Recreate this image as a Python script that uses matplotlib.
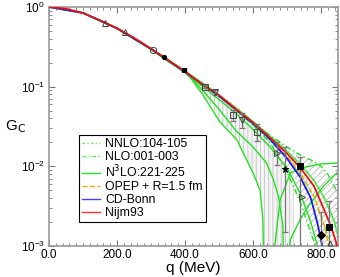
import matplotlib
matplotlib.use("Agg")
import matplotlib.pyplot as plt
import numpy as np
from matplotlib.ticker import MultipleLocator, LogLocator, NullFormatter

plt.rcParams["font.family"] = ["Liberation Sans", "DejaVu Sans"]
plt.rcParams["hatch.linewidth"] = 0.6

# ── curves (q in MeV, |G_C|) ──────────────────────────────────────────
nijm_q = [0, 50, 100, 150, 200, 250, 300, 350, 400, 450, 500, 550, 600,
          650, 700, 740, 780, 810, 830, 845, 852]
nijm_g = [1.0, 0.95, 0.84, 0.68, 0.54, 0.41, 0.30, 0.216, 0.155, 0.107,
          0.078, 0.052, 0.0355, 0.0229, 0.0145, 0.0095, 0.0056, 0.0028,
          0.00174, 0.0011, 0.0008]

bonn_q = [0, 100, 200, 300, 400, 500, 600, 650, 700, 740, 770, 790, 800, 808]
bonn_g = [1.0, 0.84, 0.54, 0.298, 0.153, 0.076, 0.0345, 0.0219, 0.0126,
          0.0072, 0.0040, 0.0019, 0.0012, 0.0008]

opep_q = [0, 100, 200, 300, 400, 500, 600, 650, 700, 740, 780, 810, 828]
opep_g = [1.0, 0.84, 0.54, 0.30, 0.154, 0.077, 0.035, 0.0225, 0.0135,
          0.0082, 0.0042, 0.0018, 0.0008]

# NLO:001-003 (dash-dot) band edges
nlo_q = [550, 600, 650, 700, 720, 744, 774, 790, 800, 820, 850]
nlo_lo = [0.051, 0.033, 0.020, 0.0085, 0.0055, 0.0031, 0.0013,
          0.00093, 0.0005, 0.0001, 0.0001]
nlo_hi = [0.053, 0.036, 0.0245, 0.0175, 0.0155, 0.0135, 0.0118,
          0.0108, 0.0100, 0.0080, 0.0046]

# NNLO:104-105 (fine dash-dot)
nnlo_q = [300, 400, 500, 600, 650, 700, 740, 780, 810, 835, 850]
nnlo_a = [0.302, 0.157, 0.079, 0.0365, 0.024, 0.0155, 0.0105, 0.0066,
          0.0040, 0.0022, 0.0014]
nnlo_b = [0.298, 0.152, 0.075, 0.033, 0.021, 0.0125, 0.0078, 0.0040,
          0.0018, 0.0008, 0.0005]

# N3LO:221-225 (solid)
n3a_q = [0, 100, 200, 300, 400, 500, 600, 650, 700, 740, 780, 810, 840, 852]
n3a_g = [1.0, 0.84, 0.54, 0.30, 0.157, 0.079, 0.0365, 0.0238, 0.0155,
         0.0105, 0.0066, 0.0040, 0.0020, 0.0012]
n3b_q = [0, 100, 200, 300, 350, 400, 450, 500, 550, 600, 650, 700, 740,
         770, 790, 800]
n3b_g = [1.0, 0.84, 0.537, 0.295, 0.210, 0.150, 0.102, 0.069, 0.046,
         0.029, 0.0175, 0.0095, 0.0045, 0.0020, 0.0010, 0.0006]
n3c_q = [0, 100, 200, 300, 350, 400, 450, 500, 550, 600, 640, 660, 675,
         688, 694, 710, 740, 770, 810, 850]
n3c_g = [1.0, 0.84, 0.537, 0.295, 0.210, 0.152, 0.092, 0.052, 0.028,
         0.0175, 0.011, 0.0068, 0.0042, 0.0018, 0.0001, 0.0012, 0.0022,
         0.0035, 0.0058, 0.0085]
n3d_q = [0, 100, 200, 300, 350, 406, 450, 503, 553, 571, 600, 621, 629,
         635, 650, 665, 680, 710, 750, 800, 850]
n3d_g = [1.0, 0.84, 0.535, 0.292, 0.207, 0.148, 0.082, 0.036, 0.0214,
         0.0148, 0.0083, 0.0050, 0.0022, 0.0001, 0.0001, 0.0011, 0.0038,
         0.0083, 0.0097, 0.0107, 0.0110]

# ── data points ───────────────────────────────────────────────────────
pts = [
    # q, G, err_lo, err_hi, marker, filled, size
    (165, 0.63, 0, 0, "^", False, 4.0),
    (224, 0.49, 0, 0, "^", False, 4.0),
    (306, 0.29, 0, 0, "o", False, 4.5),
    (338, 0.237, 0, 0, "o", True, 3.0),
    (397, 0.162, 0.006, 0.006, "s", True, 3.2),
    (459, 0.100, 0.005, 0.005, "s", False, 4.0),
    (488, 0.085, 0.006, 0.006, "v", False, 4.0),
    (541, 0.044, 0.007, 0.007, "s", False, 4.0),
    (568, 0.038, 0.008, 0.008, "v", False, 4.0),
    (612, 0.027, 0.006, 0.007, "s", False, 4.0),
    (671, 0.0148, 0.0044, 0.0052, ">", False, 4.0),
    (694, 0.0093, 0.0078, 0.0082, "*", True, 5.0),
    (738, 0.0101, 0.0095, 0.0030, "s", True, 4.2),
    (744, 0.0041, 0, 0, ">", False, 4.0),
    (800, 0.00138, 0.0008, 0.0013, "D", True, 4.0),
    (824, 0.00174, 0.0012, 0.0019, "s", True, 4.2),
    (826, 0.0011, 0, 0, "^", False, 3.5),
]

GREEN = "#22e022"
LGREEN = "#66ee66"

fig = plt.figure(figsize=(3.4, 2.77), dpi=100)
ax = fig.add_axes([0.144, 0.112, 0.850, 0.863])

# hatched bands
qd = np.linspace(380, 720, 200)
lo = np.minimum(np.interp(qd, n3d_q, n3d_g), np.interp(qd, n3c_q, n3c_g))
lo = np.where(qd > 632, 1e-5, lo)
hi = np.interp(qd, n3a_q, n3a_g)
ax.fill_between(qd, lo, hi, facecolor="#f4f4f4", edgecolor="#c4c4c4",
                hatch="||||", linewidth=0, zorder=1)
ax.fill_between(nlo_q, nlo_lo, nlo_hi, facecolor="white", edgecolor="#bbbbbb",
                hatch="/////", linewidth=0, zorder=1)

# theory curves
for qq, gg in [(n3a_q, n3a_g), (n3b_q, n3b_g), (n3c_q, n3c_g), (n3d_q, n3d_g)]:
    ax.plot(qq, gg, color=GREEN, lw=1.0, zorder=2)
ax.plot(nnlo_q, nnlo_a, color=LGREEN, lw=1.0, dashes=(3, 1.5, 1, 1.5), zorder=2)
ax.plot(nnlo_q, nnlo_b, color=LGREEN, lw=1.0, dashes=(3, 1.5, 1, 1.5), zorder=2)
ax.plot(nlo_q, nlo_lo, color=GREEN, lw=1.0, dashes=(4, 2, 1, 2), zorder=2)
ax.plot(nlo_q, nlo_hi, color=GREEN, lw=1.0, dashes=(4, 2, 1, 2), zorder=2)
ax.plot(opep_q, opep_g, color="#ffaa00", lw=1.0, ls="--", zorder=3)
ax.plot(bonn_q, bonn_g, color="#1a1aee", lw=1.3, zorder=4)
ax.plot(nijm_q, nijm_g, color="#ee1111", lw=1.3, zorder=5)

# experimental points
for q, g, el, eh, m, filled, ms in pts:
    if el or eh:
        ax.errorbar(q, g, yerr=[[el], [eh]], fmt="none", ecolor="#777777",
                    elinewidth=0.9, capsize=2.2, capthick=0.9, zorder=6)
    ax.plot(q, g, marker=m, ms=ms,
            mfc="black" if filled else "none", mec="black" if filled else "#444444",
            mew=0.7, ls="none", zorder=7)

# legend proxies
h = [
    plt.Line2D([], [], color=LGREEN, lw=1.0, dashes=(2, 1.5, 1, 1.5)),
    plt.Line2D([], [], color=LGREEN, lw=1.0, dashes=(3, 1.5, 1, 1.5)),
    plt.Line2D([], [], color=GREEN, lw=1.0),
    plt.Line2D([], [], color="#ffaa00", lw=1.0, ls="--"),
    plt.Line2D([], [], color="#4444ff", lw=1.0),
    plt.Line2D([], [], color="#ff3333", lw=1.0),
]
labels = ["NNLO:104-105", "NLO:001-003", "N$^3$LO:221-225",
          "OPEP + R=1.5 fm", "CD-Bonn", "Nijm93"]
leg = ax.legend(h, labels, loc="upper left", bbox_to_anchor=(0.103, 0.465),
                fontsize=8.8, frameon=True, fancybox=False, framealpha=1,
                edgecolor="black", borderpad=0.25, labelspacing=0.08,
                handlelength=1.5, handletextpad=0.4, borderaxespad=0)
leg.get_frame().set_linewidth(0.8)
leg.set_zorder(10)

ax.set_yscale("log")
ax.set_xlim(0, 850)
ax.set_ylim(1e-3, 1)
ax.xaxis.set_major_locator(MultipleLocator(200))
ax.xaxis.set_minor_locator(MultipleLocator(20))
ax.xaxis.set_major_formatter(plt.FuncFormatter(lambda x, _: f"{x:.1f}"))
ax.yaxis.set_major_locator(LogLocator(base=10, numticks=10))
ax.yaxis.set_minor_locator(LogLocator(base=10, subs=np.arange(2, 10), numticks=10))
ax.yaxis.set_minor_formatter(NullFormatter())

for sp in ax.spines.values():
    sp.set_color("#999999")
    sp.set_linewidth(1.2)
ax.tick_params(which="both", direction="in", top=True, right=True,
               color="#777777", labelsize=8.5)
ax.tick_params(axis="x", pad=2)
ax.tick_params(axis="y", pad=3)
ax.tick_params(which="major", length=4)
ax.tick_params(which="minor", length=2)

ax.set_xlabel("q (MeV)", fontsize=11, labelpad=0)
ax.set_ylabel("G$_\\mathrm{C}$", fontsize=11, rotation=0, va="center")
ax.yaxis.set_label_coords(-0.115, 0.5)

fig.savefig("out.png", dpi=100)
